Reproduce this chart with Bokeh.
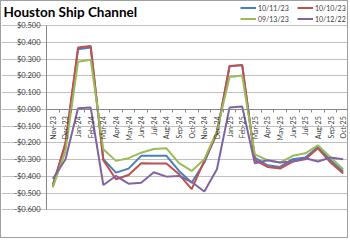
from bokeh.plotting import figure
from bokeh.models import (Range1d, LinearAxis, FixedTicker, Legend, LegendItem, Grid,
                          ColumnDataSource, CustomJSTickFormatter, Label)
from bokeh.embed import file_html
from bokeh.resources import INLINE
import math

months = ["Nov-23", "Dec-23", "Jan-24", "Feb-24", "Mar-24", "Apr-24", "May-24", "Jun-24",
          "Jul-24", "Aug-24", "Sep-24", "Oct-24", "Nov-24", "Dec-24", "Jan-25", "Feb-25",
          "Mar-25", "Apr-25", "May-25", "Jun-25", "Jul-25", "Aug-25", "Sep-25", "Oct-25"]

s_101123 = [-0.450, -0.210, 0.358, 0.368, -0.298, -0.378, -0.354, -0.278, -0.278, -0.278, -0.368, -0.438,
            -0.318, -0.140, 0.257, 0.262, -0.288, -0.334, -0.344, -0.298, -0.288, -0.225, -0.304, -0.372]
s_101023 = [-0.463, -0.200, 0.368, 0.378, -0.304, -0.418, -0.392, -0.322, -0.324, -0.324, -0.388, -0.477,
            -0.308, -0.145, 0.259, 0.265, -0.304, -0.344, -0.354, -0.312, -0.298, -0.233, -0.318, -0.384]
s_091323 = [-0.467, -0.250, 0.284, 0.296, -0.239, -0.308, -0.292, -0.259, -0.237, -0.233, -0.322, -0.368,
            -0.298, -0.130, 0.193, 0.201, -0.269, -0.304, -0.318, -0.278, -0.263, -0.215, -0.288, -0.358]
s_101222 = [-0.415, -0.300, 0.006, 0.010, -0.452, -0.398, -0.444, -0.438, -0.376, -0.402, -0.398, -0.434,
            -0.491, -0.358, 0.010, 0.016, -0.322, -0.304, -0.318, -0.312, -0.292, -0.312, -0.288, -0.298]

series_names = ["10/11/23", "10/10/23", "09/13/23", "10/12/22"]
series_vals = [s_101123, s_101023, s_091323, s_101222]
colors = ["#4A7EBB", "#C0504D", "#9BBB59", "#8064A2"]

y_ticks = [0.5, 0.4, 0.3, 0.2, 0.1, 0.0, -0.1, -0.2, -0.3, -0.4, -0.5, -0.6]
y_min, y_max = -0.6, 0.5

FONT = "Lato"
idx = list(range(len(months)))
n = len(months)

# canvas geometry (the frame fills the whole canvas; axes sit at fixed locations)
W, H = 348, 238
plot_left, plot_top, plot_bottom = 45, 24, 208.3
px_x = (W - plot_left) / n
px_y = (plot_bottom - plot_top) / (y_max - y_min)
x_start = -0.5 - plot_left / px_x
y_end = y_max + plot_top / px_y
y_start = y_min - (H - plot_bottom) / px_y

p = figure(width=W, height=H, output_backend="svg", toolbar_location=None,
           x_range=Range1d(x_start, n - 0.5), y_range=Range1d(y_start, y_end),
           x_axis_location=None, y_axis_location=None,
           min_border_left=0, min_border_right=0, min_border_top=0, min_border_bottom=0)
p.styles = {"border": "1px solid #A0A0A0"}
p.outline_line_color = None
p.background_fill_color = "white"
p.border_fill_color = "white"
p.title = None

# y axis at the left edge of the category area
yax = LinearAxis(ticker=FixedTicker(ticks=y_ticks, minor_ticks=[]), fixed_location=-0.5,
                 bounds=(y_min, y_max))
yax.formatter = CustomJSTickFormatter(code="""
const v = Math.abs(tick) < 1e-9 ? 0 : tick;
const s = '$' + Math.abs(v).toFixed(3);
return v < 0 ? '-' + s : s;
""")
yax.major_label_text_font = FONT
yax.major_label_text_font_size = "7.5px"
yax.major_label_text_color = "#404040"
yax.major_tick_line_color = None
yax.minor_tick_line_color = None
yax.major_tick_out = 0
yax.major_tick_in = 0
yax.axis_line_color = "#868686"
yax.major_label_standoff = 6
p.add_layout(yax, "left")

# x axis crossing at zero
xax = LinearAxis(ticker=FixedTicker(ticks=idx, minor_ticks=[i - 0.5 for i in range(n + 1)]),
                 fixed_location=0, bounds=(-0.5, n - 0.5))
xax.major_label_overrides = {i: m for i, m in enumerate(months)}
xax.major_label_orientation = math.pi / 2
xax.major_label_text_font = FONT
xax.major_label_text_font_size = "7px"
xax.major_label_text_color = "#404040"
xax.major_tick_line_color = None
xax.major_tick_out = 0
xax.major_tick_in = 0
xax.minor_tick_line_color = "#868686"
xax.minor_tick_in = 0
xax.minor_tick_out = 3
xax.axis_line_color = "#868686"
xax.major_label_standoff = 4
p.add_layout(xax, "below")

p.ygrid.visible = False
p.xgrid.visible = False
p.add_layout(Grid(dimension=1, ticker=FixedTicker(ticks=y_ticks), bounds=(-0.5, n - 0.5),
                  grid_line_color="#C0C0C0", grid_line_width=1))

renderers = []
for name, vals, c in zip(series_names, series_vals, colors):
    src = ColumnDataSource(dict(x=idx, y=vals))
    renderers.append(p.line("x", "y", source=src, line_color=c, line_width=2))

leg_style = dict(orientation="vertical", label_text_font=FONT, label_text_font_size="7px",
                 label_text_color="#404040", glyph_width=16, glyph_height=9, label_height=9,
                 label_standoff=2, spacing=2, padding=0, margin=0,
                 background_fill_alpha=0, border_line_color=None)
leg1 = Legend(items=[LegendItem(label=series_names[0], renderers=[renderers[0]]),
                     LegendItem(label=series_names[2], renderers=[renderers[2]])],
              location=(239, H - 22), **leg_style)
leg2 = Legend(items=[LegendItem(label=series_names[1], renderers=[renderers[1]]),
                     LegendItem(label=series_names[3], renderers=[renderers[3]])],
              location=(296, H - 22), **leg_style)
p.add_layout(leg1, "center")
p.add_layout(leg2, "center")

p.add_layout(Label(text="Houston Ship Channel", x=2, y=H - 10, x_units="screen", y_units="screen",
                   text_font=FONT, text_font_size="13.5px", text_font_style="bold",
                   text_color="#000000", text_baseline="middle", text_align="left"))

open("out.html", "w").write(file_html(p, INLINE))
